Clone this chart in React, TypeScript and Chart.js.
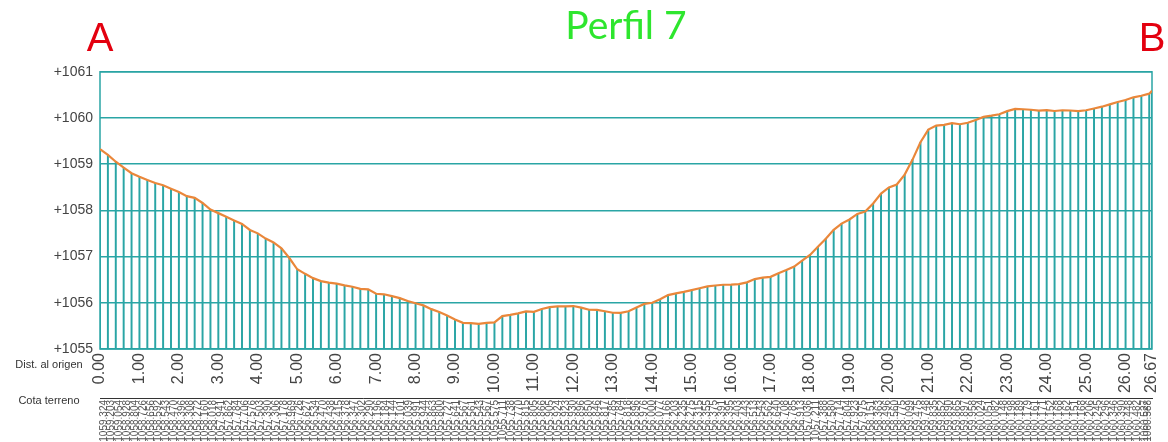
import { useEffect, useRef } from "react";
import { Chart, registerables } from "chart.js";

Chart.register(...registerables);

// Stations (distance from origin)
const DIST = [
  0, 0.2, 0.4, 0.6, 0.8, 1, 1.2, 1.4, 1.6, 1.8, 2, 2.2, 2.4, 2.6, 2.8, 3, 3.2, 3.4, 3.6, 3.8,
  4, 4.2, 4.4, 4.6, 4.8, 5, 5.2, 5.4, 5.6, 5.8, 6, 6.2, 6.4, 6.6, 6.8, 7, 7.2, 7.4, 7.6, 7.8,
  8, 8.2, 8.4, 8.6, 8.8, 9, 9.2, 9.4, 9.6, 9.8, 10, 10.2, 10.4, 10.6, 10.8, 11, 11.2, 11.4, 11.6, 11.8,
  12, 12.2, 12.4, 12.6, 12.8, 13, 13.2, 13.4, 13.6, 13.8, 14, 14.2, 14.4, 14.6, 14.8, 15, 15.2, 15.4, 15.6, 15.8,
  16, 16.2, 16.4, 16.6, 16.8, 17, 17.2, 17.4, 17.6, 17.8, 18, 18.2, 18.4, 18.6, 18.8, 19, 19.2, 19.4, 19.6, 19.8,
  20, 20.2, 20.4, 20.6, 20.8, 21, 21.2, 21.4, 21.6, 21.8, 22, 22.2, 22.4, 22.6, 22.8, 23, 23.2, 23.4, 23.6, 23.8,
  24, 24.2, 24.4, 24.6, 24.8, 25, 25.2, 25.4, 25.6, 25.8, 26, 26.2, 26.4, 26.6, 26.67,
];

// Cota terreno (ground elevation)
const ELEV = [
  1059.324, 1059.203, 1059.054, 1058.928, 1058.804, 1058.726, 1058.656, 1058.592, 1058.543, 1058.47,
  1058.396, 1058.308, 1058.272, 1058.16, 1058.018, 1057.941, 1057.862, 1057.784, 1057.706, 1057.576,
  1057.503, 1057.39, 1057.306, 1057.178, 1056.969, 1056.726, 1056.627, 1056.534, 1056.47, 1056.438,
  1056.415, 1056.378, 1056.347, 1056.302, 1056.29, 1056.196, 1056.184, 1056.144, 1056.101, 1056.039,
  1055.991, 1055.944, 1055.863, 1055.8, 1055.727, 1055.641, 1055.567, 1055.561, 1055.543, 1055.567,
  1055.575, 1055.711, 1055.738, 1055.77, 1055.815, 1055.805, 1055.866, 1055.905, 1055.924, 1055.923,
  1055.93, 1055.896, 1055.85, 1055.846, 1055.817, 1055.785, 1055.784, 1055.818, 1055.896, 1055.976,
  1056.0, 1056.077, 1056.166, 1056.203, 1056.235, 1056.275, 1056.315, 1056.355, 1056.375, 1056.391,
  1056.395, 1056.403, 1056.443, 1056.513, 1056.543, 1056.562, 1056.64, 1056.708, 1056.785, 1056.913,
  1057.036, 1057.211, 1057.388, 1057.58, 1057.714, 1057.804, 1057.923, 1057.975, 1058.151, 1058.363,
  1058.496, 1058.56, 1058.775, 1059.099, 1059.475, 1059.748, 1059.835, 1059.852, 1059.89, 1059.865,
  1059.897, 1059.958, 1060.024, 1060.051, 1060.082, 1060.148, 1060.198, 1060.189, 1060.179, 1060.161,
  1060.171, 1060.152, 1060.168, 1060.162, 1060.151, 1060.168, 1060.206, 1060.245, 1060.296, 1060.346,
  1060.39, 1060.448, 1060.482, 1060.527, 1060.588,
];

const DIST_TICKS = [
  0, 1, 2, 3, 4, 5, 6, 7, 8, 9, 10, 11, 12, 13, 14, 15, 16, 17, 18, 19, 20, 21, 22, 23, 24, 25, 26, 26.67,
];

const Y_MIN = 1055;
const Y_MAX = 1061;

const TITLE = "Perfil 7";
const START_LABEL = "A";
const END_LABEL = "B";
const DIST_LABEL = "Dist. al origen";
const COTA_LABEL = "Cota terreno";

const TEAL = "#2aa5a5";
const ORANGE = "#ea873a";

const decorPlugin = {
  id: "decor",
  beforeDatasetsDraw(chart: any) {
    const { ctx, chartArea } = chart;
    ctx.save();
    ctx.strokeStyle = TEAL;
    ctx.lineWidth = 1.5;
    ctx.strokeRect(chartArea.left, chartArea.top, chartArea.right - chartArea.left, chartArea.bottom - chartArea.top);
    ctx.restore();
  },
  afterDraw(chart: any) {
    const { ctx, chartArea, scales } = chart;
    ctx.save();
    ctx.fillStyle = "#e3000f";
    ctx.font = "40px 'Liberation Sans', Arial, sans-serif";
    ctx.textAlign = "center";
    ctx.textBaseline = "alphabetic";
    ctx.fillText(START_LABEL, chartArea.left, 51);
    ctx.fillText(END_LABEL, chartArea.right, 51);

    ctx.fillStyle = "#333";
    ctx.font = "11px 'Liberation Sans', Arial, sans-serif";
    ctx.textBaseline = "middle";
    ctx.fillText(DIST_LABEL, 49, scales.x.top + 16);
    ctx.fillText(COTA_LABEL, 49, scales.x2.top + 3);
    ctx.restore();
  },
};

export default function App() {
  const ref = useRef<HTMLCanvasElement | null>(null);

  useEffect(() => {
    if (!ref.current) return;
    const line = DIST.map((d, i) => ({ x: d, y: ELEV[i] }));
    const chart = new Chart(ref.current, {
      type: "bar",
      data: {
        datasets: [
          {
            type: "line",
            data: line,
            borderColor: ORANGE,
            borderWidth: 2.2,
            pointRadius: 0,
            tension: 0,
            xAxisID: "x",
            yAxisID: "y",
          } as any,
          {
            type: "bar",
            data: line,
            backgroundColor: TEAL,
            barThickness: 1.3,
            xAxisID: "x",
            yAxisID: "y",
          } as any,
        ],
      },
      options: {
        animation: false,
        responsive: false,
        events: [],
        layout: { padding: { left: 0, right: 16, top: 0, bottom: 0 } },
        plugins: {
          legend: { display: false },
          tooltip: { enabled: false },
          title: {
            display: true,
            text: TITLE,
            fullSize: false,
            color: "#2ee62e",
            font: { family: "Lato, 'Open Sans', sans-serif", size: 39, weight: "normal" },
            padding: { top: 3, bottom: 22 },
          },
        },
        scales: {
          x: {
            type: "linear",
            position: "bottom",
            weight: 0,
            min: 0,
            max: 26.67,
            offset: false,
            grid: { display: false },
            border: { display: false },
            afterBuildTicks: (scale: any) => {
              scale.ticks = DIST_TICKS.map((v) => ({ value: v }));
            },
            afterFit: (scale: any) => {
              scale.height = 49;
              scale.paddingRight = 0;
              scale.paddingLeft = 0;
            },
            ticks: {
              autoSkip: false,
              minRotation: 90,
              maxRotation: 90,
              padding: -4,
              color: "#444",
              font: { family: "'Liberation Sans', Arial, sans-serif", size: 16 },
              callback: (v: any) => Number(v).toFixed(2),
            },
          },
          x2: {
            type: "linear",
            position: "bottom",
            weight: 1,
            min: 0,
            max: 26.67,
            grid: { display: false, drawTicks: false },
            border: { display: true, color: "#333", width: 1 },
            afterBuildTicks: (scale: any) => {
              scale.ticks = DIST.map((v) => ({ value: v }));
            },
            afterFit: (scale: any) => {
              scale.height = 44;
              scale.paddingRight = 0;
              scale.paddingLeft = 0;
            },
            ticks: {
              autoSkip: false,
              minRotation: 90,
              maxRotation: 90,
              padding: 2,
              color: "#555",
              font: { family: "'Liberation Sans', Arial, sans-serif", size: 10 },
              callback: (_v: any, i: number) => ELEV[i].toFixed(3),
            },
          },
          y: {
            type: "linear",
            min: Y_MIN,
            max: Y_MAX,
            afterFit: (scale: any) => {
              scale.width = 100;
            },
            grid: { color: TEAL, lineWidth: 1.5, drawTicks: false },
            border: { display: false },
            ticks: {
              stepSize: 1,
              padding: 7,
              color: "#444",
              font: { family: "'Liberation Sans', Arial, sans-serif", size: 14 },
              callback: (v: any) => "+" + v,
            },
          },
        },
      },
      plugins: [decorPlugin],
    });
    return () => chart.destroy();
  }, []);

  return (
    <div style={{ position: "fixed", left: 0, top: 0, width: 1168, height: 442, background: "#fff" }}>
      <canvas ref={ref} width={1168} height={442} />
    </div>
  );
}
